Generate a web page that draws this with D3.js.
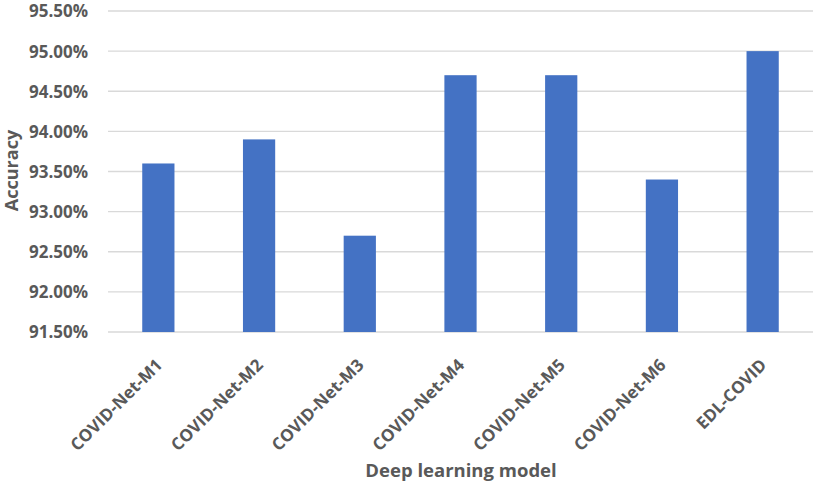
<!DOCTYPE html>
<html><head><meta charset="utf-8">
<script src="https://cdn.jsdelivr.net/npm/d3@7"></script>
<style>body{margin:0;background:#fff}svg{display:block}text{font-family:"Open Sans",sans-serif}</style>
</head><body><svg id="c" width="816" height="486"></svg>
<script>
const categories = ["COVID-Net-M1","COVID-Net-M2","COVID-Net-M3","COVID-Net-M4","COVID-Net-M5","COVID-Net-M6","EDL-COVID"];
const accuracy = [0.936, 0.939, 0.927, 0.947, 0.947, 0.934, 0.950];
const yTicks = [0.915, 0.920, 0.925, 0.930, 0.935, 0.940, 0.945, 0.950, 0.955];
const yTitle = "Accuracy";
const xTitle = "Deep learning model";

const svg = d3.select("#c");
const m = {left:108, right:3, top:11, bottom:154};
const W = 816, H = 486;
const x = d3.scaleBand().domain(categories).range([m.left, W - m.right]).paddingInner(0.68).paddingOuter(0.34);
const y = d3.scaleLinear().domain([0.915, 0.955]).range([H - m.bottom, m.top]);
const txt = "#595959";
const ff = "'Open Sans', sans-serif";

// gridlines
svg.append("g").selectAll("line").data(yTicks).join("line")
  .attr("x1", m.left).attr("x2", W - m.right)
  .attr("y1", d => y(d)).attr("y2", d => y(d))
  .attr("stroke", "#d9d9d9").attr("stroke-width", 1.3);

// y axis labels
const yAxis = d3.axisLeft(y).tickValues(yTicks).tickFormat(d3.format(".2%")).tickSize(0).tickPadding(20);
const ya = svg.append("g").attr("transform", `translate(${m.left},0)`).call(yAxis);
ya.select(".domain").remove();
ya.selectAll("text").attr("fill", txt).attr("font-size", 17).attr("font-weight", "bold").attr("font-family", ff).attr("dy", "0.35em");

// bars
svg.append("g").selectAll("rect").data(categories).join("rect")
  .attr("x", d => x(d)).attr("width", x.bandwidth())
  .attr("y", (d, i) => y(accuracy[i]))
  .attr("height", (d, i) => y(0.915) - y(accuracy[i]))
  .attr("fill", "#4472c4");

// x axis labels
const xAxis = d3.axisBottom(x).tickSize(0).tickPadding(0);
const xa = svg.append("g").attr("transform", `translate(0,${H - m.bottom})`).call(xAxis);
xa.select(".domain").remove();
xa.selectAll("text").attr("fill", txt).attr("font-size", 17).attr("font-weight", "bold").attr("font-family", ff)
  .attr("text-anchor", "end").attr("dy", null)
  .attr("transform", "translate(5,34) rotate(-45)")
  .attr("y", 0).attr("x", 0);

// titles
svg.append("text").attr("x", 461).attr("y", 477)
  .attr("text-anchor", "middle").attr("fill", txt).attr("font-size", 18.5).attr("font-weight", "bold").attr("font-family", ff).text(xTitle);
svg.append("text").attr("transform", `translate(18,${y(0.935) - 1}) rotate(-90)`)
  .attr("text-anchor", "middle").attr("fill", txt).attr("font-size", 18).attr("font-weight", "bold").attr("font-family", ff).text(yTitle);
</script></body></html>
